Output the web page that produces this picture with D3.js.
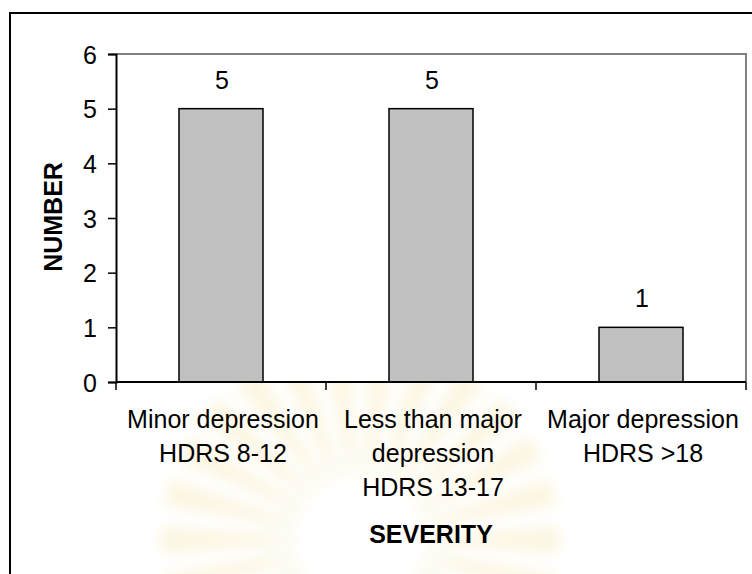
<!DOCTYPE html>
<html>
<head>
<meta charset="utf-8">
<script src="https://cdn.jsdelivr.net/npm/d3@7"></script>
<style>
  html, body { margin: 0; padding: 0; background: #fff; }
  svg { display: block; }
  text { font-family: "Liberation Sans", Arial, sans-serif; fill: #000; }
</style>
</head>
<body>
<svg id="chart" width="752" height="574"></svg>
<script>
// ---- data ----
const categories = ["Minor depression", "Less than major depression", "Major depression"];
const categoryLines = [
  ["Minor depression", "HDRS 8-12"],
  ["Less than major", "depression", "HDRS 13-17"],
  ["Major depression", "HDRS >18"]
];
const counts = [5, 5, 1];
const yTicks = [0, 1, 2, 3, 4, 5, 6];
const yTitle = "NUMBER";
const xTitle = "SEVERITY";

// ---- layout ----
const W = 752, H = 574;
const plot = { left: 116, right: 746, top: 54, bottom: 382 };
const svg = d3.select("#chart");

// faint watermark (decorative)
const defs = svg.append("defs");
defs.append("filter").attr("id", "blur").append("feGaussianBlur").attr("stdDeviation", 7);
const wm = svg.append("g").attr("filter", "url(#blur)").attr("opacity", 0.22);
const wc = [360, 540];
const nRays = 26;
for (let i = 0; i < nRays; i++) {
  const a = (i / nRays) * 2 * Math.PI;
  const a1 = a - 0.05, a2 = a + 0.05;
  const r0 = 65, r1 = 200;
  const pts = [
    [wc[0] + r0 * Math.cos(a1), wc[1] + r0 * Math.sin(a1)],
    [wc[0] + r1 * Math.cos(a1 - 0.02), wc[1] + r1 * Math.sin(a1 - 0.02)],
    [wc[0] + r1 * Math.cos(a2 + 0.02), wc[1] + r1 * Math.sin(a2 + 0.02)],
    [wc[0] + r0 * Math.cos(a2), wc[1] + r0 * Math.sin(a2)]
  ];
  wm.append("path").attr("d", "M" + pts.map(p => p.join(",")).join("L") + "Z").attr("fill", "#F2D77E");
}

// white plot area covers watermark above the axis
svg.append("rect")
  .attr("x", plot.left).attr("y", plot.top)
  .attr("width", plot.right - plot.left).attr("height", plot.bottom - plot.top)
  .attr("fill", "#fff");

// outer chart border (only top & left visible in the frame)
svg.append("rect")
  .attr("x", 10).attr("y", 13).attr("width", W + 20).attr("height", H + 20)
  .attr("fill", "none").attr("stroke", "#000").attr("stroke-width", 2);

// scales
const x = d3.scaleBand().domain(categories).range([plot.left, plot.right]).paddingInner(0).paddingOuter(0);
const y = d3.scaleLinear().domain([0, 6]).range([plot.bottom, plot.top]);

// plot area border (gray top & right)
svg.append("path")
  .attr("d", `M${plot.left},${y(6)}H${plot.right}V${y(0)}`)
  .attr("fill", "none").attr("stroke", "#808080").attr("stroke-width", 2);

// bars
const barW = x.bandwidth() * 0.4;
svg.append("g").selectAll("rect").data(categories).join("rect")
  .attr("x", d => x(d) + (x.bandwidth() - barW) / 2)
  .attr("y", (d, i) => y(counts[i]))
  .attr("width", barW)
  .attr("height", (d, i) => y(0) - y(counts[i]))
  .attr("fill", "#C0C0C0").attr("stroke", "#000").attr("stroke-width", 1.5);

// value labels
svg.append("g").selectAll("text").data(categories).join("text")
  .attr("x", d => x(d) + x.bandwidth() / 2 + 1)
  .attr("y", (d, i) => y(counts[i]) - 20)
  .attr("text-anchor", "middle").attr("font-size", 25)
  .text((d, i) => counts[i]);

// y axis
const yAxis = svg.append("g").attr("transform", `translate(${plot.left},0)`)
  .call(d3.axisLeft(y).tickValues(yTicks).tickFormat(d3.format("d")).tickSize(8).tickPadding(11));
yAxis.select(".domain").attr("stroke", "#000").attr("stroke-width", 2);
yAxis.selectAll(".tick line").attr("stroke", "#000").attr("stroke-width", 1.5);
yAxis.selectAll(".tick text").attr("font-size", 25).attr("font-family", "Liberation Sans, Arial, sans-serif").attr("fill", "#000").attr("dy", "0.36em");

// x axis line and ticks at band boundaries
const xAxis = svg.append("g");
xAxis.append("line")
  .attr("x1", plot.left).attr("x2", plot.right).attr("y1", y(0)).attr("y2", y(0))
  .attr("stroke", "#000").attr("stroke-width", 2);
const boundaries = categories.map(d => x(d)).concat([x(categories[categories.length - 1]) + x.bandwidth()]);
xAxis.selectAll("line.tk").data(boundaries).join("line").attr("class", "tk")
  .attr("x1", d => d).attr("x2", d => d).attr("y1", y(0)).attr("y2", y(0) + 8)
  .attr("stroke", "#000").attr("stroke-width", 1.5);

// category labels
const catG = svg.append("g");
categories.forEach((c, i) => {
  const t = catG.append("text")
    .attr("x", x(c) + x.bandwidth() / 2 + 2)
    .attr("y", 428)
    .attr("text-anchor", "middle").attr("font-size", 25);
  categoryLines[i].forEach((line, j) => {
    t.append("tspan").attr("x", x(c) + x.bandwidth() / 2 + 2).attr("y", 428 + j * 34).text(line);
  });
});

// axis titles
svg.append("text")
  .attr("transform", `translate(62,217) rotate(-90)`)
  .attr("text-anchor", "middle").attr("font-size", 25).attr("font-weight", "bold")
  .text(yTitle);
svg.append("text")
  .attr("x", (plot.left + plot.right) / 2).attr("y", 543)
  .attr("text-anchor", "middle").attr("font-size", 25).attr("font-weight", "bold")
  .text(xTitle);
</script>
</body>
</html>
